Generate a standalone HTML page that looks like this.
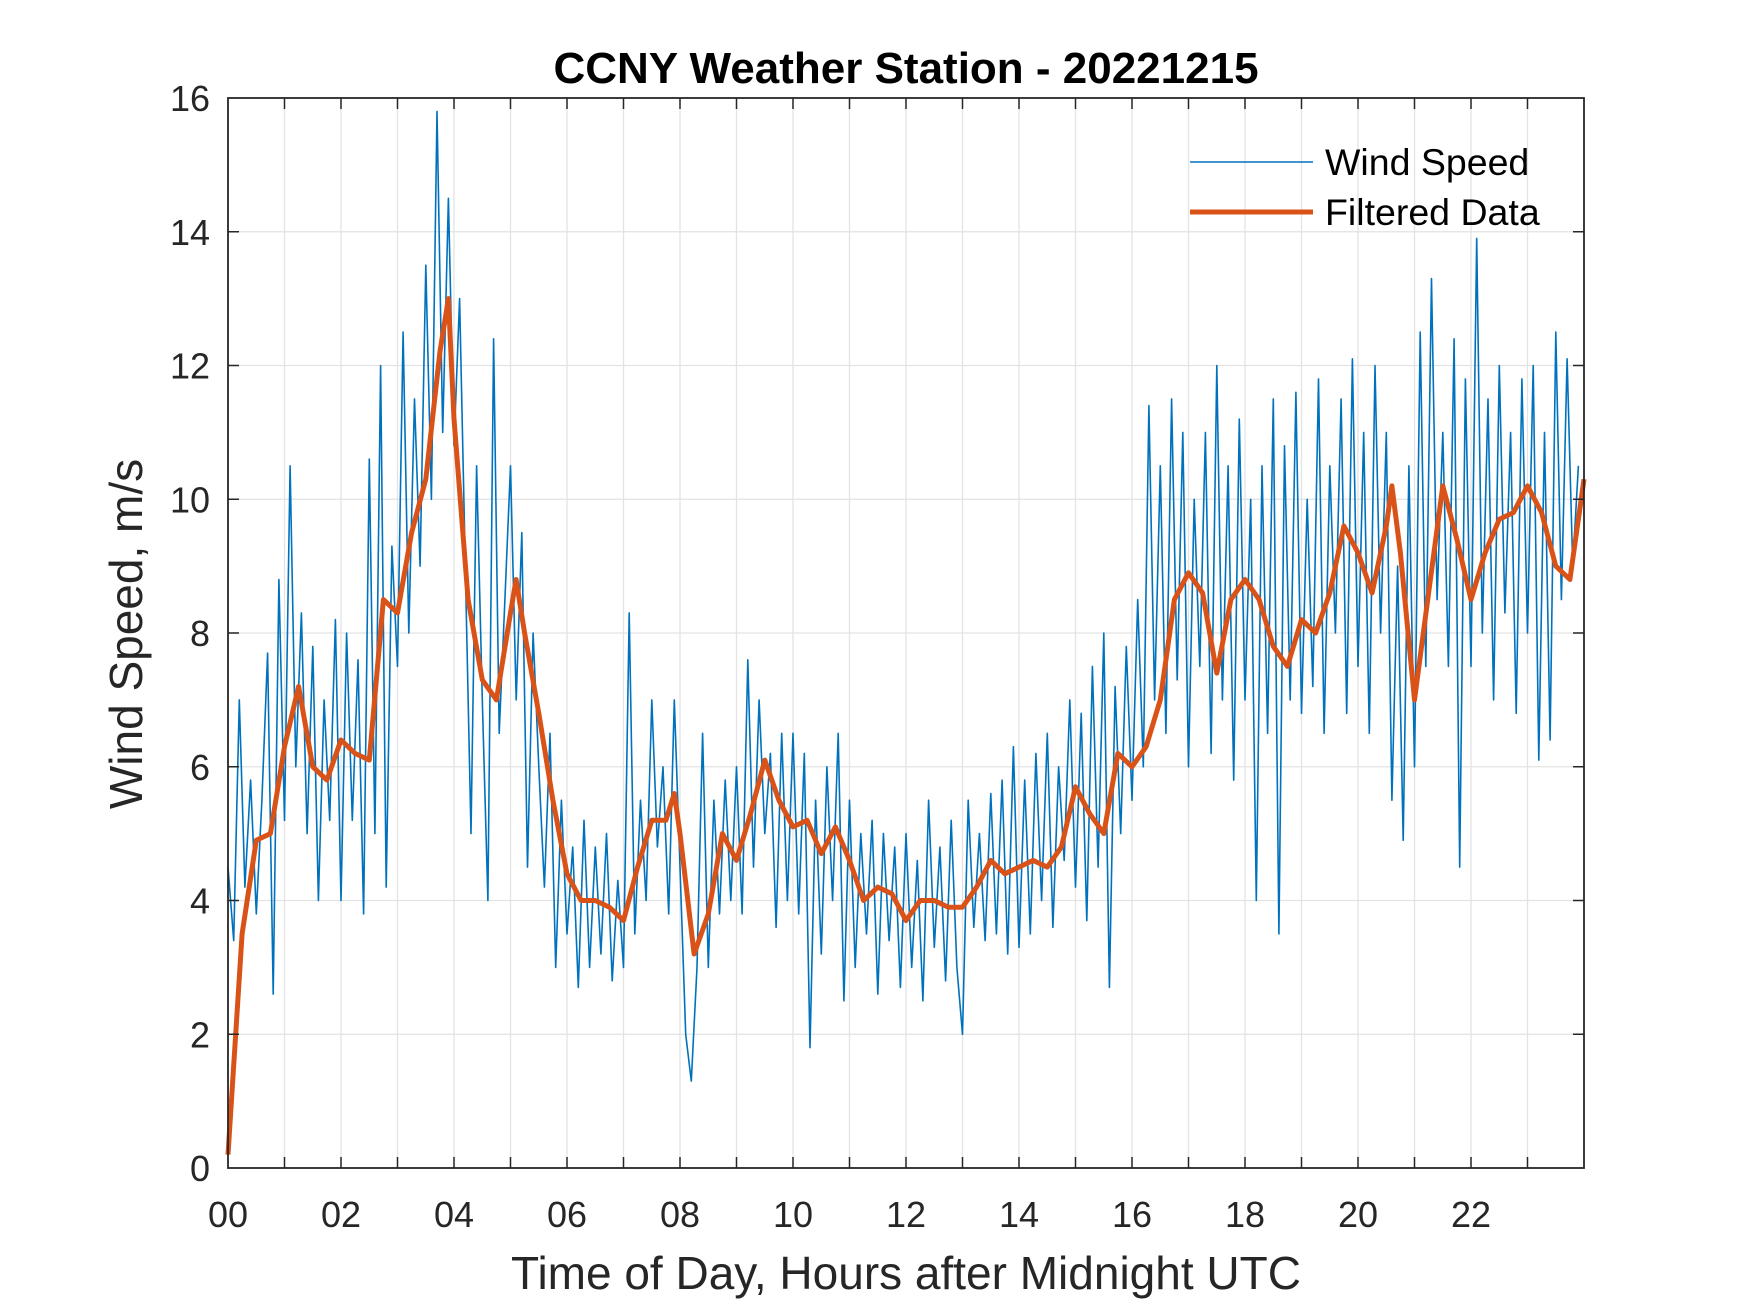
<!DOCTYPE html>
<html><head><meta charset="utf-8"><style>
html,body{margin:0;padding:0;background:#fff;}
svg{display:block;font-family:"Liberation Sans",sans-serif;}
</style></head><body>
<svg id="chart" width="1750" height="1313" viewBox="0 0 1750 1313" xmlns="http://www.w3.org/2000/svg">
<rect width="1750" height="1313" fill="#fff"/>
<g id="grid"></g>
<g id="series"></g>
<g id="axes"></g>
<text x="906" y="83" text-anchor="middle" font-size="44" font-weight="bold" fill="#000">CCNY Weather Station - 20221215</text>
<text x="906" y="1289" text-anchor="middle" font-size="46" fill="#262626">Time of Day, Hours after Midnight UTC</text>
<text transform="translate(142,634) rotate(-90)" text-anchor="middle" font-size="46" fill="#262626">Wind Speed, m/s</text>
<g>
  <line x1="1190" y1="162" x2="1313" y2="162" stroke="#0072BD" stroke-width="1.5"/>
  <text x="1325" y="175" font-size="37.5" fill="#000">Wind Speed</text>
  <line x1="1190" y1="212" x2="1313" y2="212" stroke="#D95319" stroke-width="5"/>
  <text x="1325" y="225" font-size="37.5" fill="#000">Filtered Data</text>
</g>
</svg>
<script>
const rawValues = [
4.5,3.4,7.0,4.2,5.8,3.8,5.5,7.7,2.6,8.8,
5.2,10.5,6.0,8.3,5.0,7.8,4.0,7.0,5.2,8.2,
4.0,8.0,5.2,7.6,3.8,10.6,5.0,12.0,4.2,9.3,
7.5,12.5,8.0,11.5,9.0,13.5,10.0,15.8,11.0,14.5,
10.8,13.0,9.0,5.0,10.5,7.0,4.0,12.4,6.5,8.5,
10.5,7.0,9.5,4.5,8.0,6.0,4.2,6.5,3.0,5.5,
3.5,4.8,2.7,5.2,3.0,4.8,3.2,5.0,2.8,4.3,
3.0,8.3,3.5,5.5,4.0,7.0,4.8,6.0,3.8,7.0,
4.5,2.0,1.3,3.0,6.5,3.0,5.5,3.8,5.8,4.0,
6.0,3.8,7.6,4.5,7.0,5.0,6.2,3.6,6.5,4.0,
6.5,3.8,6.2,1.8,5.5,3.2,6.0,4.0,6.5,2.5,
5.5,3.0,5.0,3.5,5.2,2.6,5.0,3.4,4.8,2.7,
5.0,3.0,4.6,2.5,5.5,3.3,4.8,2.8,5.2,3.0,
2.0,5.5,3.6,5.0,3.4,5.6,3.5,5.8,3.2,6.3,
3.3,5.8,3.5,6.2,4.0,6.5,3.6,6.0,4.6,7.0,
4.2,6.8,3.7,7.5,4.5,8.0,2.7,7.2,5.0,7.8,
5.5,8.5,6.0,11.4,7.0,10.5,6.5,11.5,7.3,11.0,
6.0,10.0,7.5,11.0,6.2,12.0,7.0,10.5,5.8,11.2,
7.0,10.0,4.0,10.5,6.5,11.5,3.5,10.8,7.0,11.6,
6.8,10.0,7.2,11.8,6.5,10.5,8.0,11.5,6.8,12.1,
7.5,11.0,6.5,12.0,8.0,11.0,5.5,9.0,4.9,10.5,
6.0,12.5,7.5,13.3,8.5,11.0,7.5,12.4,4.5,11.8,
7.5,13.9,8.0,11.5,7.0,12.0,8.3,11.0,6.8,11.8,
8.0,12.0,6.1,11.0,6.4,12.5,8.5,12.1,9.0,10.5
];
const rawStepHours = 0.1;
const filteredHours = [0,0.25,0.5,0.75,1,1.25,1.5,1.75,2,2.25,2.5,2.75,3,3.25,3.5,3.75,3.9,4,4.25,4.5,4.75,5,5.1,5.25,5.5,5.75,6,6.25,6.5,6.75,7,7.25,7.5,7.75,7.9,8,8.25,8.5,8.75,9,9.25,9.5,9.75,10,10.25,10.5,10.75,11,11.25,11.5,11.75,12,12.25,12.5,12.75,13,13.25,13.5,13.75,14,14.25,14.5,14.75,15,15.25,15.5,15.75,16,16.25,16.5,16.75,17,17.25,17.5,17.75,18,18.25,18.5,18.75,19,19.25,19.5,19.75,20,20.25,20.5,20.6,20.75,21,21.25,21.5,21.75,22,22.25,22.5,22.75,23,23.25,23.5,23.75,24];
const filteredValues = [0.2,3.5,4.9,5.0,6.3,7.2,6.0,5.8,6.4,6.2,6.1,8.5,8.3,9.5,10.3,12.2,13.0,11.2,8.5,7.3,7.0,8.3,8.8,8.0,6.8,5.5,4.4,4.0,4.0,3.9,3.7,4.5,5.2,5.2,5.6,5.0,3.2,3.8,5.0,4.6,5.3,6.1,5.5,5.1,5.2,4.7,5.1,4.6,4.0,4.2,4.1,3.7,4.0,4.0,3.9,3.9,4.2,4.6,4.4,4.5,4.6,4.5,4.8,5.7,5.3,5.0,6.2,6.0,6.3,7.0,8.5,8.9,8.6,7.4,8.5,8.8,8.5,7.8,7.5,8.2,8.0,8.6,9.6,9.2,8.6,9.6,10.2,9.2,7.0,8.6,10.2,9.4,8.5,9.2,9.7,9.8,10.2,9.8,9.0,8.8,10.3];
const xTickLabels = ["00","02","04","06","08","10","12","14","16","18","20","22"];
const yTickLabels = ["0","2","4","6","8","10","12","14","16"];

const L=228,R=1584,T=98,B=1168,XMAX=24,YMAX=16;
const NS="http://www.w3.org/2000/svg";
function xs(h){return L+(R-L)*h/XMAX;}
function ys(v){return B-(B-T)*v/YMAX;}
function mk(tag,attrs,parent){const e=document.createElementNS(NS,tag);for(const k in attrs)e.setAttribute(k,attrs[k]);parent.appendChild(e);return e;}
const grid=document.getElementById('grid'),axes=document.getElementById('axes'),series=document.getElementById('series');
for(let h=1;h<XMAX;h++){
  const g=mk('line',{x1:xs(h),x2:xs(h),y1:T,y2:B,stroke:'#e3e3e3','stroke-width':1.3},grid);
  
  
  for(const [a,b] of [[B,B-11],[T,T+11]]){
    const t=mk('line',{x1:xs(h),x2:xs(h),y1:a,y2:b,stroke:'#262626','stroke-width':1.5},axes);
    
    
  }
}
for(let i=1;i<yTickLabels.length-1;i++){
  const v=+yTickLabels[i];
  const g=mk('line',{x1:L,x2:R,y1:ys(v),y2:ys(v),stroke:'#e3e3e3','stroke-width':1.3},grid);
  
  
  for(const [a,b] of [[L,L+11],[R,R-11]]){
    const t=mk('line',{x1:a,x2:b,y1:ys(v),y2:ys(v),stroke:'#262626','stroke-width':1.5},axes);
    
    
  }
}
xTickLabels.forEach((s,i)=>{
  const t=mk('text',{x:xs(i*2),y:1227,'text-anchor':'middle','font-size':36,fill:'#262626'},axes);
  t.textContent=s;
  
  
});
yTickLabels.forEach(s=>{
  const t=mk('text',{x:210,y:ys(+s)+13,'text-anchor':'end','font-size':36,fill:'#262626'},axes);
  t.textContent=s;
  
  
});
const box=mk('rect',{x:L,y:T,width:R-L,height:B-T,fill:'none',stroke:'#262626','stroke-width':1.8},axes);


const rp=rawValues.map((v,i)=>xs(i*rawStepHours).toFixed(1)+','+ys(v).toFixed(1)).join(' ');
const raw=mk('polyline',{points:rp,fill:'none',stroke:'#0072BD','stroke-width':1.6,'stroke-linejoin':'round'},series);


const fp=filteredValues.map((v,i)=>xs(filteredHours[i]).toFixed(1)+','+ys(v).toFixed(1)).join(' ');
const fl=mk('polyline',{points:fp,fill:'none',stroke:'#D95319','stroke-width':5,'stroke-linejoin':'round'},series);


</script>
</body></html>
